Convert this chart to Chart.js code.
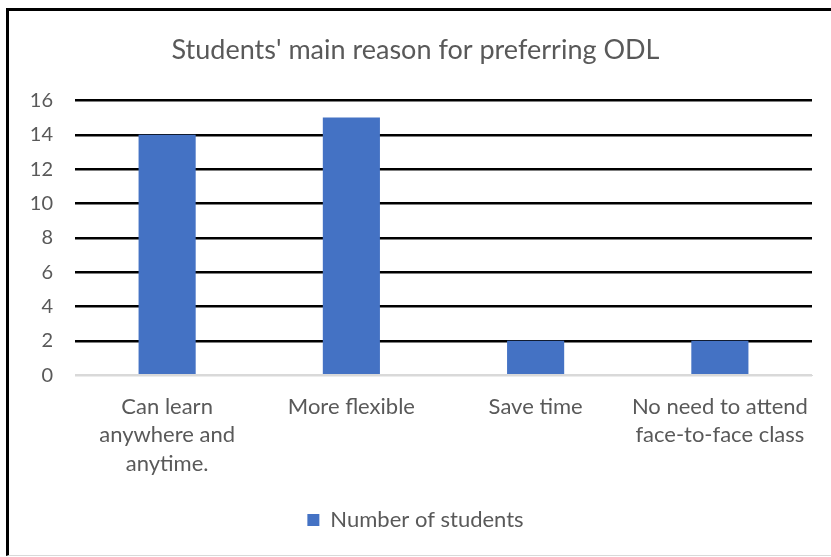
<!DOCTYPE html>
<html>
<head>
<meta charset="utf-8">
<script src="https://cdn.jsdelivr.net/npm/chart.js@4.4.1/dist/chart.umd.min.js"></script>
<style>
  html, body { margin: 0; padding: 0; background: #fff; }
  #box {
    position: absolute; left: 6px; top: 8px;
    width: 825px; height: 548px; box-sizing: border-box;
    border-left: 3px solid #000; border-top: 3px solid #000;
    border-bottom: 1px solid #d9d9d9;
  }
  #wrap { width: 822px; height: 544px; }
</style>
</head>
<body>
<div id="box"><div id="wrap"><canvas id="bar-chart"></canvas></div></div>
<script>
// reasons given by the students (multi-line axis labels)
var categories = [
    ["Can learn", "anywhere and", "anytime."],
    ["More flexible"],
    ["Save time"],
    ["No need to attend", "face-to-face class"]
];
var students = [14, 15, 2, 2];
var seriesLabel = "Number of students";
var yTicks = [0, 2, 4, 6, 8, 10, 12, 14, 16];

var grey = "#595959";
var font = "Lato, 'Open Sans', sans-serif";

new Chart(document.getElementById("bar-chart"), {
    type: 'bar',
    data: {
        labels: categories,
        datasets: [{
            label: seriesLabel,
            data: students,
            backgroundColor: "#4472C4",
            borderWidth: 0,
            barPercentage: 0.31,
            categoryPercentage: 1
        }]
    },
    options: {
        responsive: true,
        maintainAspectRatio: false,
        animation: false,
        layout: { padding: { left: 10, right: 19, top: 17, bottom: 14 } },
        plugins: {
            title: {
                display: true,
                text: "Students' main reason for preferring ODL",
                color: grey,
                font: { family: font, size: 27, weight: 'normal' },
                padding: { top: 6, bottom: 34 }
            },
            legend: {
                position: 'bottom',
                labels: {
                    color: grey,
                    boxWidth: 12,
                    boxHeight: 12,
                    font: { family: font, size: 22 },
                    padding: 16
                }
            },
            tooltip: { enabled: false }
        },
        scales: {
            x: {
                grid: { display: false },
                border: { color: "#d9d9d9", width: 1 },
                ticks: {
                    color: grey,
                    font: { family: font, size: 22, lineHeight: 1.3 },
                    maxRotation: 0,
                    padding: 9
                },
                // leave a bit of room between the labels and the legend
                afterFit: function(scale) { scale.height += 6; }
            },
            y: {
                min: 0,
                max: 16,
                afterBuildTicks: function(scale) {
                    scale.ticks = yTicks.map(function(v) { return { value: v }; });
                },
                border: { display: false },
                grid: {
                    drawTicks: false,
                    lineWidth: 2.5,
                    color: function(ctx) {
                        return ctx.tick && ctx.tick.value === 0 ? "#d9d9d9" : "#000";
                    }
                },
                ticks: {
                    color: grey,
                    font: { family: font, size: 20 },
                    padding: 22
                },
                afterFit: function(scale) { scale.width = 56; }
            }
        }
    }
});
</script>
</body>
</html>
